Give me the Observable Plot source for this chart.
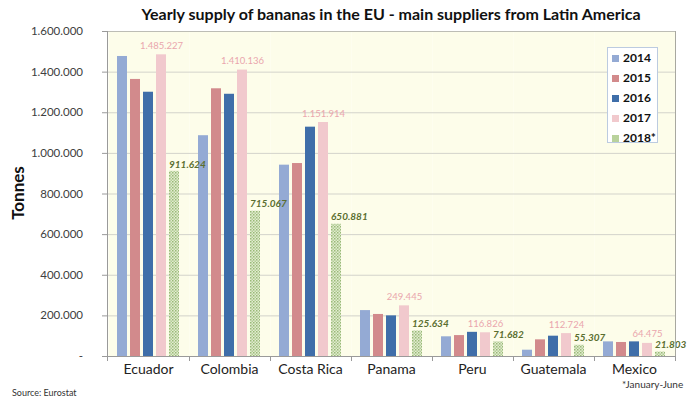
<!DOCTYPE html>
<html>
<head>
<meta charset="utf-8">
<script src="https://cdn.jsdelivr.net/npm/d3@7"></script>
<script src="https://cdn.jsdelivr.net/npm/@observablehq/plot@0.6"></script>
<style>
  html, body { margin: 0; padding: 0; background: #fff; }
  #wrap { position: relative; width: 690px; height: 398px; overflow: hidden; font-family: Lato, "Open Sans", sans-serif; background: #fff; }
  #title { height: 28px; line-height: 28px; text-align: center; font-weight: bold; font-size: 16px; color: #111; padding-left: 92px; box-sizing: border-box; }
  #chart svg { display: block; }
  #legend { position: absolute; left: 607px; top: 47px; width: 51px; height: 96px; border: 1px solid #bccbe0; background: #fff; box-sizing: border-box; }
  .li { position: absolute; left: 4px; font-size: 12px; font-weight: bold; color: #111; line-height: 14px; }
  .sw { display: inline-block; width: 7px; height: 7px; margin-right: 4px; vertical-align: 0px; }
  #ylab { position: absolute; left: 17px; top: 193px; transform: translate(-50%, -50%) rotate(-90deg); font-weight: bold; font-size: 17px; color: #111; white-space: nowrap; }
  #note { position: absolute; left: 622px; top: 378px; font-size: 10px; color: #333; white-space: nowrap; }
  #src { position: absolute; left: 12px; top: 387px; font-size: 9px; line-height: 11px; color: #333; white-space: nowrap; }
</style>
</head>
<body>
<div id="wrap">
  <div id="title">Yearly supply of bananas in the EU - main suppliers from Latin America</div>
  <div id="chart"></div>
  <div id="legend"></div>
  <div id="ylab">Tonnes</div>
  <div id="note">*January-June</div>
  <div id="src">Source: Eurostat</div>
</div>
<script>
const countries = ["Ecuador", "Colombia", "Costa Rica", "Panama", "Peru", "Guatemala", "Mexico"];
const years = ["2014", "2015", "2016", "2017", "2018*"];
const v2014 = [1477000, 1087000, 942000, 226000, 97000, 31000, 72000];
const v2015 = [1364000, 1318000, 950000, 207000, 103000, 82000, 69000];
const v2016 = [1301000, 1291000, 1129000, 200000, 119000, 100000, 72000];
const v2017 = [1485227, 1410136, 1151914, 249445, 116826, 112724, 64475];
const v2018 = [911624, 715067, 650881, 125634, 71682, 55307, 21803];
const yTicks = [0, 200000, 400000, 600000, 800000, 1000000, 1200000, 1400000, 1600000];
const colors = ["#94aad4", "#d28a8c", "#3f6ea9", "#f1c9cd", "url(#pat2018)"];
const legendSwatch = ["#94aad4", "#d28a8c", "#3f6ea9", "#f1c9cd", "#b9d29c"];

const series = [v2014, v2015, v2016, v2017, v2018];
const data = [];
countries.forEach((c, i) => years.forEach((y, j) => data.push({country: c, year: y, value: series[j][i]})));

const loc = d3.formatLocale({decimal: ",", thousands: ".", grouping: [3], currency: ["", ""]});
const fmt = loc.format(",");
const yFmt = d => d === 0 ? "-" : fmt(d);

const plot = Plot.plot({
  width: 690,
  height: 370,
  marginTop: 3,
  marginBottom: 42,
  marginLeft: 107,
  marginRight: 14,
  style: {background: "transparent", fontFamily: "Lato, 'Open Sans', sans-serif", overflow: "visible"},
  fx: {domain: countries, padding: 0, label: null, axis: null},
  x: {domain: years, paddingInner: 0.21, paddingOuter: 0.5, axis: null},
  y: {domain: [0, 1600000], axis: null},
  color: {domain: years, range: colors},
  marks: [
    Plot.frame({fill: "#fdfdea", stroke: null}),
    Plot.gridY(yTicks.filter(d => d > 0), {stroke: "#d3d3cb", strokeOpacity: 1, strokeWidth: 1}),
    Plot.barY(data, {fx: "country", x: "year", y: "value", fill: "year"}),
    Plot.text(data.filter(d => d.year === "2017"), {
      fx: "country", x: "year", y: "value", text: d => fmt(d.value),
      dy: -9, fill: "#eaa6ad", fontSize: 9.5
    }),
    Plot.text(data.filter(d => d.year === "2018*"), {
      fx: "country", x: "year", y: "value", text: d => fmt(d.value),
      dy: -7, dx: -5.5, textAnchor: "start", fill: "#5a6e2f", fontSize: 10,
      fontWeight: "bold", fontStyle: "italic"
    })
  ]
});

// pattern for 2018 bars
const svg = d3.select(plot);
const defs = svg.insert("defs", ":first-child");
const pat = defs.append("pattern").attr("id", "pat2018").attr("patternUnits", "userSpaceOnUse")
  .attr("width", 3).attr("height", 3);
pat.append("rect").attr("width", 3).attr("height", 3).attr("fill", "#e2ebd0");
pat.append("rect").attr("x", 0).attr("y", 0).attr("width", 1.5).attr("height", 1.5).attr("fill", "#99ba76");
pat.append("rect").attr("x", 1.5).attr("y", 1.5).attr("width", 1.5).attr("height", 1.5).attr("fill", "#b2cd94");

// frame / axes decorations drawn from the plot's scales
const fx = plot.scale("fx");
const ys = plot.scale("y");
const mL = 107, mR = 14;
const y0 = ys.apply(0), yTop = ys.apply(1600000);
const right = 690 - mR;
const deco = svg.append("g").attr("stroke", "#9a9a9a").attr("fill", "none");
deco.append("line").attr("x1", mL).attr("x2", right).attr("y1", yTop + 0.5).attr("y2", yTop + 0.5).attr("stroke", "#bdbdb5");
deco.append("line").attr("x1", right - 0.5).attr("x2", right - 0.5).attr("y1", yTop).attr("y2", y0).attr("stroke", "#a8a8a0");
deco.append("line").attr("x1", mL + 0.5).attr("x2", mL + 0.5).attr("y1", yTop).attr("y2", y0 + 5);
deco.append("line").attr("x1", mL - 5).attr("x2", right).attr("y1", y0 + 0.5).attr("y2", y0 + 0.5);
// y ticks + labels
const yg = svg.append("g").attr("font-size", 11.5).attr("fill", "#404040").attr("text-anchor", "end");
yTicks.forEach(t => {
  const y = ys.apply(t);
  deco.append("line").attr("x1", mL - 5).attr("x2", mL).attr("y1", y + 0.5).attr("y2", y + 0.5);
  yg.append("text").attr("x", 83).attr("y", y).attr("dy", "0.35em").text(yFmt(t));
});
// category boundary ticks + labels
const bw = fx.bandwidth;
const xg = svg.append("g").attr("font-size", 14).attr("fill", "#222").attr("text-anchor", "middle");
countries.forEach((c, i) => {
  const x0 = fx.apply(c);
  if (i > 0) deco.append("line").attr("x1", x0 + 0.5).attr("x2", x0 + 0.5).attr("y1", y0).attr("y2", y0 + 5);
  xg.append("text").attr("x", x0 + bw / 2).attr("y", y0 + 13).attr("dy", "0.35em").text(c);
});
deco.append("line").attr("x1", right - 0.5).attr("x2", right - 0.5).attr("y1", y0).attr("y2", y0 + 5);

document.getElementById("chart").appendChild(plot);

// legend
const lg = document.getElementById("legend");
years.forEach((y, i) => {
  const d = document.createElement("div");
  d.className = "li";
  d.style.top = (3 + i * 20) + "px";
  const s = document.createElement("span");
  s.className = "sw";
  s.style.background = legendSwatch[i];
  d.appendChild(s);
  d.appendChild(document.createTextNode(y));
  lg.appendChild(d);
});
</script>
</body>
</html>
